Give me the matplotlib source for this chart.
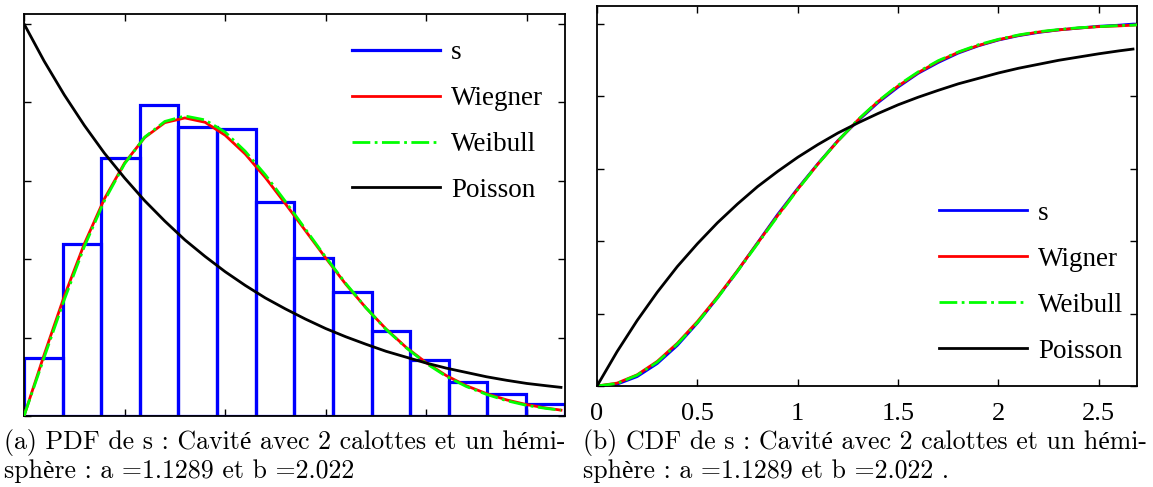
import numpy as np
import matplotlib
matplotlib.use('Agg')
import matplotlib.pyplot as plt
from matplotlib.lines import Line2D

# histogramme des espacements s (PDF)
bin_edges = [0.0, 0.192, 0.384, 0.576, 0.768, 0.960, 1.152, 1.344,
             1.536, 1.728, 1.920, 2.112, 2.304, 2.496, 2.69]
hist_heights = [0.148, 0.439, 0.657, 0.792, 0.737, 0.731, 0.546,
                0.403, 0.315, 0.216, 0.142, 0.086, 0.055, 0.031]

# abscisses des courbes
s_grid = [0.0, 0.1, 0.2, 0.3, 0.4, 0.5, 0.6, 0.7, 0.8, 0.9, 1.0, 1.1, 1.2, 1.3,
          1.4, 1.5, 1.6, 1.7, 1.8, 1.9, 2.0, 2.1, 2.2, 2.3, 2.4, 2.5, 2.6, 2.67]

# PDF
pdf_wigner = [0.0, 0.156, 0.305, 0.439, 0.554, 0.645, 0.710, 0.748, 0.760, 0.749,
              0.716, 0.668, 0.608, 0.541, 0.472, 0.403, 0.336, 0.276, 0.222, 0.175,
              0.136, 0.103, 0.077, 0.057, 0.041, 0.029, 0.020, 0.015]
pdf_weibull = [0.0, 0.149, 0.296, 0.432, 0.549, 0.643, 0.711, 0.751, 0.765, 0.755,
               0.724, 0.675, 0.615, 0.547, 0.476, 0.405, 0.338, 0.276, 0.221, 0.174,
               0.134, 0.101, 0.075, 0.055, 0.039, 0.027, 0.019, 0.015]
pdf_poisson = [1.0, 0.905, 0.819, 0.741, 0.670, 0.607, 0.549, 0.497, 0.449, 0.407,
               0.368, 0.333, 0.301, 0.273, 0.247, 0.223, 0.202, 0.183, 0.165, 0.150,
               0.135, 0.122, 0.111, 0.100, 0.091, 0.083, 0.077, 0.073]

# CDF
cdf_s = [0.0, 0.005, 0.026, 0.062, 0.112, 0.174, 0.244, 0.318, 0.396, 0.474,
         0.546, 0.614, 0.678, 0.733, 0.783, 0.826, 0.864, 0.894, 0.920, 0.940,
         0.956, 0.968, 0.977, 0.984, 0.989, 0.994, 0.997, 1.0]
cdf_wigner = [0.0, 0.008, 0.031, 0.068, 0.118, 0.178, 0.246, 0.319, 0.395, 0.471,
              0.544, 0.613, 0.677, 0.735, 0.786, 0.829, 0.866, 0.897, 0.922, 0.941,
              0.957, 0.969, 0.978, 0.984, 0.989, 0.993, 0.995, 0.997]
cdf_weibull = [0.0, 0.007, 0.030, 0.066, 0.116, 0.175, 0.243, 0.317, 0.393, 0.469,
               0.543, 0.613, 0.677, 0.736, 0.787, 0.831, 0.868, 0.899, 0.923, 0.943,
               0.958, 0.970, 0.979, 0.985, 0.990, 0.993, 0.996, 0.997]
cdf_poisson = [0.0, 0.095, 0.181, 0.259, 0.330, 0.393, 0.451, 0.503, 0.551, 0.593,
               0.632, 0.667, 0.699, 0.727, 0.753, 0.777, 0.798, 0.817, 0.835, 0.850,
               0.865, 0.878, 0.889, 0.900, 0.909, 0.918, 0.926, 0.931]

xticks = [0, 0.5, 1, 1.5, 2, 2.5]
xtick_labels = ['0', '0.5', '1', '1.5', '2', '2.5']
yticks = [0, 0.2, 0.4, 0.6, 0.8, 1.0]

caption_a = "(a) PDF de s : Cavité avec 2 calottes et un hémi-\nsphère : a =1.1289 et b =2.022"
caption_b = "(b) CDF de s : Cavité avec 2 calottes et un hémi-\nsphère : a =1.1289 et b =2.022 ."

plt.rcParams['font.family'] = ['Liberation Serif', 'DejaVu Serif']

W, H = 1153, 487
fig = plt.figure(figsize=(W / 100, H / 100), dpi=100)
ax1 = fig.add_axes([24 / W, 1 - 416 / H, (565 - 24) / W, (416 - 14) / H])
ax2 = fig.add_axes([597 / W, 1 - 386 / H, (1137 - 597) / W, (386 - 6) / H])

blue, red, green = '#0000ff', '#ff0000', '#00ff00'
leg_kw = dict(frameon=False, fontsize=19.5, handlelength=3.25, labelspacing=0.77,
              handletextpad=0.4)

# --- PDF ---
widths = np.diff(bin_edges)
ax1.bar(bin_edges[:-1], hist_heights, width=widths, align='edge', fill=False,
        edgecolor=blue, linewidth=2.3, zorder=2)
l_w, = ax1.plot(s_grid, pdf_wigner, color=red, lw=2, zorder=3)
l_b, = ax1.plot(s_grid, pdf_weibull, color=green, lw=2, ls='-.', zorder=4)
l_p, = ax1.plot(s_grid, pdf_poisson, color='k', lw=2, zorder=5)
ax1.set_xlim(0, 2.69)
ax1.set_ylim(0, 1.025)
ax1.set_xticks(xticks)
ax1.set_yticks(yticks)
ax1.set_xticklabels([])
ax1.set_yticklabels([])
l_s = Line2D([], [], color=blue, lw=2.3)
ax1.legend([l_s, l_w, l_b, l_p], ['s', 'Wiegner', 'Weibull', 'Poisson'],
           loc='upper left', bbox_to_anchor=(0.562, 0.995), **leg_kw)

# --- CDF ---
ax2.plot(s_grid + [2.69], cdf_s + [1.0], color=blue, lw=2, label='s', zorder=2)
ax2.plot(s_grid + [2.69], cdf_wigner + [0.998], color=red, lw=2, label='Wigner', zorder=3)
ax2.plot(s_grid + [2.69], cdf_weibull + [0.998], color=green, lw=2, ls='-.', label='Weibull', zorder=4)
ax2.plot(s_grid, cdf_poisson, color='k', lw=2, label='Poisson', zorder=5)
ax2.set_xlim(0, 2.69)
ax2.set_ylim(0, 1.05)
ax2.set_xticks(xticks)
ax2.set_xticklabels(xtick_labels, fontsize=19)
ax2.set_yticks(yticks)
ax2.set_yticklabels([])
ax2.legend(loc='lower left', bbox_to_anchor=(0.589, -0.005), **leg_kw)

for ax in (ax1, ax2):
    ax.tick_params(direction='in', top=True, right=True, length=5, width=1, pad=12)
    for sp in ax.spines.values():
        sp.set_linewidth(1.3)

cap_font = ['cmr10', 'Liberation Serif']
fig.text(4 / W, 1 - 429 / H, caption_a, fontsize=18.6, family=cap_font,
         va='top', ha='left', linespacing=1.2)
fig.text(583 / W, 1 - 429 / H, caption_b, fontsize=18.6, family=cap_font,
         va='top', ha='left', linespacing=1.2)

fig.savefig('out.png', dpi=100)
